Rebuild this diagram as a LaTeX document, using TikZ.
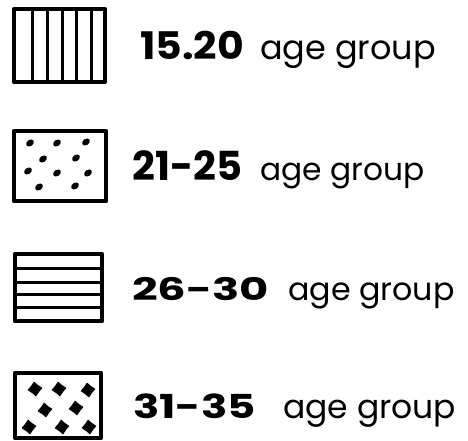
\documentclass[tikz,border=0pt]{standalone}
\usepackage{fontspec}
\setmainfont{Poppins}
\usetikzlibrary{shapes.geometric}
\tikzset{
  keybox/.style={draw=black, line width=4.2pt, fill=white, line join=round},
  hatch/.style={line width=3pt},
  dot/.style={fill=black, draw=none, ellipse, minimum width=8.5pt, minimum height=6.2pt, inner sep=0pt, rotate=35},
  plus/.style={fill=black, draw=none, star, star points=4, star point ratio=1.5, minimum size=15pt, inner sep=0pt, rotate=8},
  numlbl/.style={anchor=base west, inner sep=0pt},
  agelbl/.style={anchor=base west, inner sep=0pt},
}
\newcommand{\numfont}[1]{\fontsize{#1}{#1}\selectfont\bfseries}
\newcommand{\agefont}[1]{\fontsize{#1}{#1}\selectfont}
\begin{document}
\begin{tikzpicture}[x=1pt,y=-1pt]
\useasboundingbox (0,0) rectangle (468,441);
% box 1: vertical stripes
\draw[keybox] (14,9) rectangle (105,82);
\foreach \xx in {32,47,62,76,91} \draw[hatch] (\xx,9) -- (\xx,82);
% box 2: dots
\draw[keybox] (14,131) rectangle (106,201);
\foreach \p in {(30,143),(57,143),(86,142),(43,159),(76,158),(28,171),(57,173),(88,173),(39,187),(75,186)}
  \node[dot] at \p {};
% box 3: horizontal stripes
\draw[keybox] (15,254) rectangle (102,321);
\foreach \yy in {268,282,294,307} \draw[hatch] (15,\yy) -- (102,\yy);
% box 4: crosses
\draw[keybox] (15,373) rectangle (101,438);
\foreach \p in {(35,389),(59,389),(88,390),(45,410),(76,408),(29,427),(62,427),(89,427)}
  \node[plus] at \p {};
% labels
\node[numlbl, xscale=1.08, font=\numfont{38}] (n1) at (140,60) {15.20};
\node[agelbl, font=\agefont{33.5}] (a1) at (260,60) {age group};
\node[numlbl, font=\numfont{40}] (n2) at (132,180) {21-25};
\node[agelbl, font=\agefont{31.3}] (a2) at (260,180) {age group};
\node[numlbl, xscale=1.45, font=\numfont{31}] (n3) at (132,300) {26-30};
\node[agelbl, font=\agefont{31.7}] (a3) at (288,300) {age group};
\node[numlbl, xscale=1.32, font=\numfont{33}] (n4) at (133,418) {31-35};
\node[agelbl, font=\agefont{33}] (a4) at (283,418) {age group};
\end{tikzpicture}
\end{document}
